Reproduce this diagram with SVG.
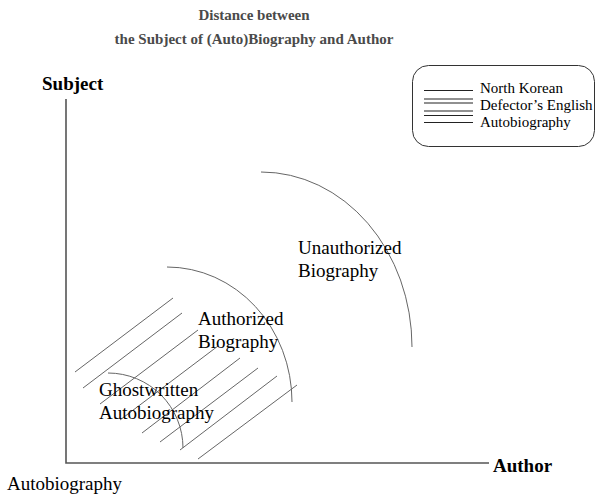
<svg xmlns="http://www.w3.org/2000/svg" width="597" height="503" viewBox="0 0 597 503">
<style>
  text { font-family: "Liberation Serif", "Times New Roman", serif; fill: #000; }
  .title { font-size: 15px; font-weight: bold; fill: #4a4a4a; text-anchor: middle; }
  .axislbl { font-size: 19px; font-weight: bold; }
  .lbl { font-size: 19px; }
  .leg { font-size: 15px; }
  .axis { stroke: #555; stroke-width: 1.6; fill: none; }
  .arc { stroke: #666; stroke-width: 1; fill: none; }
  .hatch { stroke: #666; stroke-width: 1; }
  .legline { stroke: #222; stroke-width: 1.2; }
</style>
<rect width="597" height="503" fill="#fff"/>
<g id="title">
  <text class="title" x="254" y="20">Distance between</text>
  <text class="title" x="254" y="44">the Subject of (Auto)Biography and Author</text>
</g>
<g id="axes">
  <polyline class="axis" points="66,99 66,463 489,463"/>
  <text class="axislbl" x="42" y="90">Subject</text>
  <text class="axislbl" x="493" y="472">Author</text>
</g>
<g id="legend">
  <rect x="412.5" y="65.5" width="182" height="81" rx="16" fill="none" stroke="#333" stroke-width="1"/>
  <line class="legline" x1="424" y1="90.5" x2="473" y2="90.5"/>
  <line class="legline" x1="424" y1="99" x2="473" y2="99"/>
  <line class="legline" x1="424" y1="103" x2="473" y2="103"/>
  <line class="legline" x1="424" y1="111" x2="473" y2="111"/>
  <line class="legline" x1="424" y1="115.5" x2="473" y2="115.5"/>
  <line class="legline" x1="424" y1="122.5" x2="473" y2="122.5"/>
  <text class="leg" x="480" y="93">North Korean</text>
  <text class="leg" x="480" y="110">Defector’s English</text>
  <text class="leg" x="480" y="127">Autobiography</text>
</g>
<g id="hatching">
  <line class="hatch" x1="75" y1="372" x2="173" y2="298"/>
  <line class="hatch" x1="83" y1="388" x2="182" y2="313"/>
  <line class="hatch" x1="100" y1="404" x2="198" y2="330"/>
  <line class="hatch" x1="120" y1="420" x2="218" y2="346"/>
  <line class="hatch" x1="142" y1="433" x2="240" y2="358"/>
  <line class="hatch" x1="160" y1="442" x2="258" y2="368"/>
  <line class="hatch" x1="180" y1="450" x2="277" y2="376"/>
  <line class="hatch" x1="198" y1="459" x2="297" y2="385"/>
</g>
<g id="arcs">
  <path class="arc" d="M261,172 A151,175 0 0 1 412,347"/>
  <path class="arc" d="M167,267 A125,135 0 0 1 292,402"/>
  <path class="arc" d="M108,373 A75,75 0 0 1 183,448"/>
</g>
<g id="unauthorized">
  <text class="lbl" x="298" y="254">Unauthorized</text>
  <text class="lbl" x="298" y="277">Biography</text>
</g>
<g id="authorized">
  <text class="lbl" x="198" y="325">Authorized</text>
  <text class="lbl" x="198" y="348">Biography</text>
</g>
<g id="ghostwritten">
  <text class="lbl" x="99" y="396">Ghostwritten</text>
  <text class="lbl" x="99" y="419">Autobiography</text>
</g>
<g id="autobiography">
  <text class="lbl" x="7" y="490">Autobiography</text>
</g>
</svg>
